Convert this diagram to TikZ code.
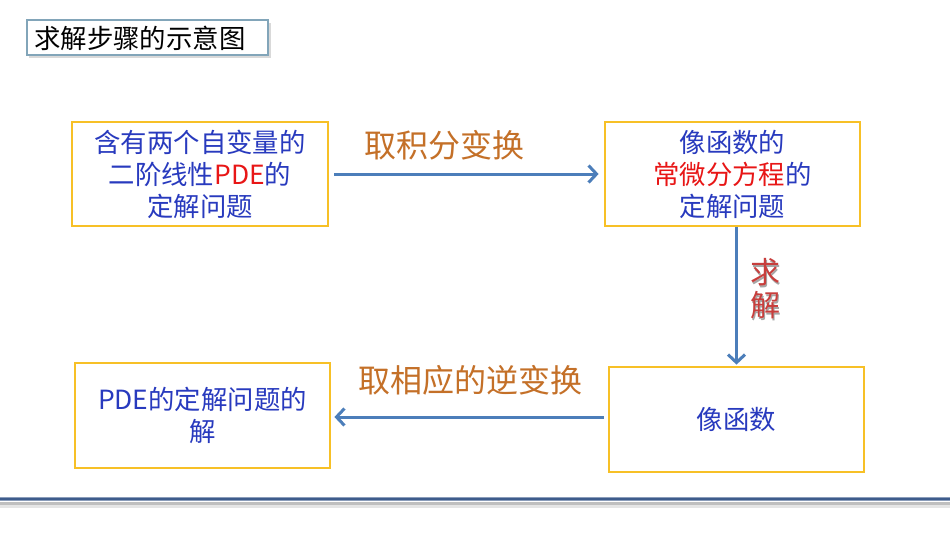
\documentclass[tikz,border=0pt]{standalone}
\usepackage{fontspec}
\setmainfont{Noto Sans CJK SC}
\usetikzlibrary{arrows.meta,shadows}
\definecolor{txtblue}{RGB}{40,58,190}
\definecolor{pdered}{RGB}{232,22,22}
\definecolor{boxgold}{RGB}{247,192,38}
\definecolor{arrblue}{RGB}{76,126,186}
\definecolor{lblorange}{RGB}{196,112,40}
\definecolor{lblred}{RGB}{200,62,60}
\definecolor{titleframe}{RGB}{130,165,185}
\definecolor{rulecol}{RGB}{62,92,140}
\tikzset{
  x=1pt, y=-1pt,
  stepbox/.style={draw=boxgold, line width=2.8pt, fill=white, rectangle,
    minimum width=255pt, minimum height=104pt, inner sep=0pt,
    align=center, text=txtblue, font=\fontsize{26.4}{32}\selectfont},
  flow/.style={draw=arrblue, line width=3pt,
    -{Straight Barb[length=8pt,width=17pt,line width=3pt]}},
  lbl/.style={text=lblorange, font=\fontsize{32}{36}\selectfont, inner sep=0pt},
}
\begin{document}
\begin{tikzpicture}
\useasboundingbox (0,0) rectangle (950,535);
\fill[white] (0,0) rectangle (950,535);
% title
\fill[black!15] (29,23) rectangle (271,58);
\node[draw=titleframe, line width=1.5pt, fill=white, rectangle,
  minimum width=241pt, minimum height=35pt, inner sep=0pt] (title) at (147.5,37.5) {};
\node[anchor=west, inner sep=0pt, font=\fontsize{26.4}{30}\selectfont, text=black] (titletxt)
  at (34,38.5) {求解步骤的示意图};
% boxes
\node[stepbox, minimum width=256pt] (b1) at (200,174) {含有两个自变量的\\二阶线性\textcolor{pdered}{PDE}的\\定解问题};
\node[stepbox] (b2) at (732.5,174) {像函数的\\\textcolor{pdered}{常微分方程}的\\定解问题};
\node[stepbox, minimum height=105pt] (b3) at (736.5,419.5) {像函数};
\node[stepbox, minimum height=105pt] (b4) at (202.5,415.5) {PDE的定解问题的\\解};
% arrows
\draw[flow, shorten <=5pt, shorten >=5pt] (b1.east) -- (b2.west);
\draw[flow, shorten >=1pt] (b3.north |- b2.south) -- (b3.north);
\draw[flow, shorten <=4pt, shorten >=3pt] (b3.west |- 0,417) coordinate (a3s) -- (b4.east |- a3s);
% labels
\node[lbl] (l1) at (444,145) {取积分变换};
\node[lbl] (l3) at (470,380) {取相应的逆变换};
\node[text=black!35, font=\fontsize{30}{33}\selectfont, inner sep=0pt, align=center] (l2s) at (766.5,290.5) {求\\解};
\node[text=lblred, font=\fontsize{30}{33}\selectfont, inner sep=0pt, align=center] (l2) at (765,289) {求\\解};
% bottom rule
\draw[black!25, line width=3pt] (0,503) -- (950,503);
\draw[black!10, line width=3pt] (0,506) -- (950,506);
\draw[rulecol!60, line width=4.5pt] (0,499) -- (950,499);
\draw[rulecol, line width=2.5pt] (0,499) -- (950,499);
\end{tikzpicture}
\end{document}
